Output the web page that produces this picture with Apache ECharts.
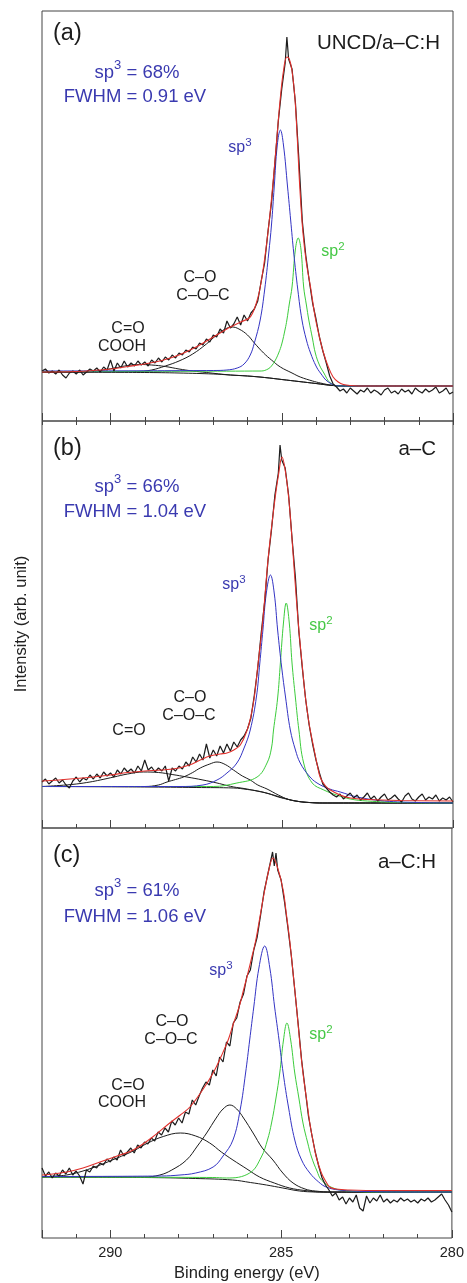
<!DOCTYPE html>
<html><head><meta charset="utf-8">
<script src="https://cdn.jsdelivr.net/npm/echarts/dist/echarts.min.js"></script>
<style>html,body{margin:0;padding:0;background:#fff}#c{width:467px;height:1283px}</style>
</head><body><div id="c"></div>
<script>
// ---------- DATA (binding energy eV, intensity arb. units) ----------
// Panel (a) UNCD/a-C:H
const baseA = [[292,49],[289,48.5],[288,48],[287,47],[286.5,46],[286,45],[285.5,43.5],[285,41.5],[284.5,39.5],[284,37.5],[283.5,35.5],[283,35],[280,35]];
const coohA = [[292,49],[290.5,49.5],[290.2,51],[289.8,53.5],[289.5,55.5],[289.15,56.5],[288.8,56],[288.4,54.5],[288,52],[287.6,50],[287.2,48.5],[286.5,46],[286,45],[285.5,43.5],[285,41.5],[284.5,39.5],[284,37.5],[283.5,35.5],[283,35],[280,35]];
const coA = [[292,49],[289.2,49.5],[288.8,51],[288.4,55],[288,60],[287.6,67],[287.2,77],[286.9,86],[286.65,92],[286.45,94],[286.25,92],[286,86],[285.8,78],[285.53,68],[285.3,61],[285.04,54],[284.7,48],[284.46,44],[284.1,40],[283.87,38],[283.5,35.5],[283.2,35],[280,35]];
const sp2A = [[292,49.5],[285.6,50],[285.4,52],[285.3,55],[285.2,60],[285.09,68],[285,77],[284.9,92],[284.85,101],[284.78,117],[284.7,134],[284.6,172],[284.52,183],[284.44,172],[284.36,134],[284.28,116],[284.21,101],[284.1,82],[284.02,68],[283.9,56],[283.77,48],[283.58,38],[283.3,35],[280,35]];
const sp3A = [[292,50],[287,50.5],[286.6,51],[286.3,53],[286.1,57],[285.92,66],[285.8,78],[285.63,101],[285.5,131],[285.38,168],[285.3,196],[285.22,234],[285.13,276],[285.04,291],[284.95,276],[284.83,234],[284.74,201],[284.65,168],[284.53,131],[284.41,101],[284.28,81],[284.16,68],[284,55],[283.87,48],[283.64,39],[283.3,35],[280,35]];
const fitA = [[292,49],[291,49.5],[290.5,50.5],[290,52],[289.5,54.5],[289,57],[288.5,60.5],[288,66],[287.5,74],[287,84],[286.7,90],[286.5,94],[286.2,99],[285.95,103],[285.85,108],[285.75,117],[285.65,130],[285.55,150],[285.45,175],[285.35,205],[285.25,240],[285.15,280],[285.05,320],[284.95,350],[284.85,364],[284.78,362],[284.7,350],[284.62,325],[284.55,285],[284.47,232],[284.38,188],[284.28,158],[284.16,134],[284.02,103],[283.9,84],[283.78,68],[283.65,55],[283.5,44],[283.35,39],[283.2,36.5],[283,35.5],[282.5,35],[280,35]];
const dataA = [[292.0,50],[291.9,52],[291.8,48],[291.7,50],[291.6,47],[291.5,51],[291.4,46],[291.3,43],[291.2,48],[291.1,50],[291.0,47],[290.9,51],[290.8,46],[290.7,49],[290.6,52],[290.5,50],[290.4,53],[290.3,49],[290.2,54],[290.1,51],[290.0,61],[289.9,50],[289.8,58],[289.7,53],[289.6,60],[289.5,54],[289.4,58],[289.3,55],[289.2,60],[289.1,56],[289.0,59],[288.9,55],[288.8,61],[288.7,58],[288.6,63],[288.5,59],[288.4,64],[288.3,61],[288.2,66],[288.1,63],[288.0,68],[287.9,66],[287.8,71],[287.7,69],[287.6,74],[287.5,72],[287.4,78],[287.3,76],[287.2,82],[287.1,79],[287.0,86],[286.9,84],[286.8,92],[286.7,88],[286.6,100],[286.5,93],[286.4,97],[286.3,104],[286.2,96],[286.1,106],[286.0,100],[285.9,108],[285.8,112],[285.7,120],[285.6,140],[285.5,158],[285.4,190],[285.3,218],[285.2,258],[285.1,300],[285.0,332],[284.9,358],[284.85,384],[284.8,362],[284.7,352],[284.6,318],[284.5,262],[284.4,200],[284.3,166],[284.2,141],[284.1,118],[284.0,102],[283.9,84],[283.8,70],[283.7,58],[283.6,45],[283.5,37],[283.4,34],[283.3,30],[283.2,32],[283.1,28],[283.0,33],[282.9,30],[282.8,27],[282.7,31],[282.6,29],[282.5,33],[282.4,28],[282.3,31],[282.2,29],[282.1,26],[282.0,31],[281.9,33],[281.8,28],[281.7,30],[281.6,27],[281.5,32],[281.4,29],[281.3,31],[281.2,27],[281.1,33],[281.0,30],[280.9,28],[280.8,32],[280.7,29],[280.6,31],[280.5,34],[280.4,28],[280.3,30],[280.2,33],[280.1,27],[280.0,29]];

// Panel (b) a-C
const baseB = [[292,41.5],[289,41],[287.5,40.5],[286.4,40],[286,38.5],[285.7,37],[285.4,34.5],[285.1,31],[284.8,28.5],[284.5,26.5],[284.2,25.5],[283.8,25],[280,25]];
const coohB = [[292,41.5],[291.5,42.5],[291,44],[290.6,46],[290.3,48],[289.9,51],[289.5,54],[289.04,56],[288.6,55.5],[288.2,53.5],[287.77,51],[287.3,48],[286.89,45],[286.6,42.5],[286.4,41],[286.1,39.5],[285.8,37.5],[285.4,34.5],[285,30.5],[284.6,27],[284.2,25.5],[283.8,25],[280,25]];
const coB = [[292,41.5],[289,41.5],[288.6,43],[288.35,46],[288.1,48.5],[287.87,51],[287.6,55.5],[287.38,60],[287.1,64],[286.89,66],[286.65,63.5],[286.41,58],[286.15,52],[285.92,48],[285.7,43],[285.43,39],[285.1,33],[284.8,28.5],[284.5,26.5],[284.2,25.5],[283.8,25],[280,25]];
const sp3B = [[292,41.5],[288,41.5],[287.3,43],[286.89,48],[286.6,55],[286.31,65],[286.1,80],[285.92,98],[285.74,131],[285.64,165],[285.55,198],[285.45,235],[285.33,253],[285.22,235],[285.12,198],[285,160],[284.89,131],[284.75,98],[284.6,78],[284.46,65],[284.2,52],[283.97,45],[283.6,39],[283.29,36],[282.8,31],[282,27],[281,25.5],[280,25]];
const sp2B = [[292,41.5],[287,41.5],[286.31,45],[285.72,51],[285.43,65],[285.3,80],[285.24,98],[285.12,130],[285.04,165],[284.95,205],[284.87,225],[284.78,205],[284.7,165],[284.6,130],[284.5,98],[284.36,65],[284.11,45],[283.77,38],[283.4,33],[283,29],[282.5,27],[281.5,25.5],[280,25]];
const fitB = [[292,47],[291.5,48],[291,49.5],[290.5,51],[290,53],[289.5,55.5],[289,57],[288.5,58],[288,60],[287.7,63],[287.38,68],[287.1,72],[286.8,74],[286.6,75],[286.4,78],[286.21,83],[286.01,98],[285.9,112],[285.8,131],[285.7,162],[285.58,198],[285.5,228],[285.41,265],[285.3,300],[285.19,331],[285.1,352],[284.99,371],[284.9,358],[284.8,331],[284.72,298],[284.65,265],[284.58,232],[284.5,198],[284.4,162],[284.31,131],[284.2,104],[284.07,81],[283.97,64],[283.87,50],[283.72,42],[283.58,38],[283.3,33],[283,30],[282.5,28.5],[281.5,27.5],[280,27]];
const dataB = [[292.0,46],[291.9,49],[291.8,44],[291.7,47],[291.6,50],[291.5,45],[291.4,48],[291.3,43],[291.2,40],[291.1,47],[291.0,51],[290.9,46],[290.8,50],[290.7,48],[290.6,53],[290.5,49],[290.4,54],[290.3,50],[290.2,56],[290.1,52],[290.0,55],[289.9,51],[289.8,58],[289.7,54],[289.6,60],[289.5,56],[289.4,59],[289.3,55],[289.2,62],[289.1,57],[289.0,68],[288.9,58],[288.8,61],[288.7,56],[288.6,60],[288.5,57],[288.4,62],[288.3,47],[288.2,60],[288.1,57],[288.0,62],[287.9,59],[287.8,66],[287.7,62],[287.6,71],[287.5,66],[287.4,74],[287.3,68],[287.2,84],[287.1,70],[287.0,78],[286.9,72],[286.8,82],[286.7,75],[286.6,84],[286.5,77],[286.4,86],[286.3,81],[286.2,88],[286.1,92],[286.0,99],[285.9,110],[285.8,133],[285.7,160],[285.6,195],[285.5,226],[285.4,268],[285.3,298],[285.2,333],[285.1,355],[285.05,383],[285.0,368],[284.9,360],[284.8,333],[284.7,290],[284.6,250],[284.5,196],[284.4,160],[284.3,128],[284.2,103],[284.1,84],[284.0,68],[283.9,55],[283.8,44],[283.7,40],[283.6,36],[283.5,33],[283.4,31],[283.3,34],[283.2,29],[283.1,32],[283.0,35],[282.9,30],[282.8,33],[282.7,28],[282.6,31],[282.5,35],[282.4,29],[282.3,32],[282.2,27],[282.1,31],[282.0,34],[281.9,28],[281.8,30],[281.7,33],[281.6,29],[281.5,26],[281.4,32],[281.3,35],[281.2,29],[281.1,27],[281.0,31],[280.9,34],[280.8,28],[280.7,31],[280.6,29],[280.5,33],[280.4,27],[280.3,30],[280.2,28],[280.1,31],[280.0,26]];

// Panel (c) a-C:H
const baseC = [[292,61],[289,60.5],[287.5,59.5],[286.42,58],[285.9,55.5],[285.43,53],[284.95,50],[284.46,47],[284,46],[283.5,45.8],[280,45.8]];
const coohC = [[292,61],[291.6,62],[291.28,63],[290.8,67],[290.3,73],[289.8,80],[289.33,87],[288.9,95],[288.45,101.5],[287.95,105],[287.5,102],[287.09,95],[286.75,86],[286.41,78],[286,69],[285.63,61],[285.2,55],[284.75,50],[284.3,47.5],[283.8,46],[280,46]];
const coC = [[292,61],[289,61],[288.55,63],[288.2,68],[287.77,78],[287.45,92],[287.18,105],[286.9,120],[286.7,129],[286.5,133],[286.3,129],[286.1,120],[285.82,105],[285.55,90],[285.24,78],[284.95,65],[284.65,55],[284.3,49],[284,47],[283.5,46],[280,46]];
const sp3C = [[292,61.5],[288.5,62],[287.96,63],[287.5,65],[286.99,71],[286.7,82],[286.41,98],[286.2,128],[286.04,165],[285.92,198],[285.8,231],[285.65,270],[285.48,292],[285.33,270],[285.19,231],[285.06,198],[284.94,165],[284.78,130],[284.6,98],[284.4,78],[284.16,65],[283.9,56],[283.68,51],[283.3,48],[282.5,46.5],[281,46],[280,46]];
const sp2C = [[292,61],[287,60.5],[286.6,60],[285.92,65],[285.58,81],[285.4,98],[285.28,115],[285.15,140],[285.04,165],[284.93,198],[284.83,215],[284.72,198],[284.6,165],[284.48,140],[284.36,115],[284.22,95],[284.11,81],[283.95,67],[283.82,58],[283.48,50],[283,47],[282,46],[280,46]];
const fitC = [[292,63],[291.8,63.5],[291.28,66],[290.8,70],[290.3,76],[289.8,82],[289.33,88],[288.8,100],[288.26,115],[287.95,123],[287.67,131],[287.3,148],[286.99,165],[286.75,182],[286.55,198],[286.4,214],[286.23,231],[286.1,248],[285.97,265],[285.85,282],[285.74,298],[285.6,325],[285.48,348],[285.36,368],[285.24,380],[285.1,370],[284.94,348],[284.85,325],[284.75,298],[284.65,265],[284.55,231],[284.46,198],[284.36,165],[284.26,140],[284.16,115],[284.06,96],[283.97,81],[283.82,65],[283.7,57],[283.58,51],[283.4,49],[283,48],[282,47.5],[280,47.5]];
const dataC = [[292.0,70],[291.9,62],[291.8,66],[291.7,60],[291.6,65],[291.5,62],[291.4,68],[291.3,64],[291.2,70],[291.1,63],[291.0,67],[290.9,62],[290.8,54],[290.7,68],[290.6,66],[290.5,72],[290.4,70],[290.3,75],[290.2,73],[290.1,79],[290.0,76],[289.9,81],[289.8,78],[289.7,88],[289.6,82],[289.5,86],[289.4,90],[289.3,85],[289.2,93],[289.1,90],[289.0,96],[288.9,94],[288.8,100],[288.7,97],[288.6,106],[288.5,103],[288.4,110],[288.3,106],[288.2,117],[288.1,113],[288.0,120],[287.9,115],[287.8,126],[287.7,124],[287.6,138],[287.5,133],[287.4,142],[287.3,150],[287.2,156],[287.1,153],[287.0,168],[286.9,162],[286.8,181],[286.7,176],[286.6,196],[286.5,192],[286.4,215],[286.3,220],[286.2,236],[286.1,244],[286.0,262],[285.9,268],[285.8,288],[285.7,301],[285.6,323],[285.5,346],[285.4,362],[285.3,378],[285.25,386],[285.2,372],[285.15,385],[285.1,368],[285.0,358],[284.9,336],[284.8,310],[284.7,282],[284.6,248],[284.5,214],[284.4,178],[284.3,150],[284.2,122],[284.1,103],[284.0,86],[283.9,72],[283.8,60],[283.7,53],[283.6,48],[283.5,42],[283.4,45],[283.3,38],[283.2,41],[283.1,34],[283.0,40],[282.9,36],[282.8,43],[282.7,30],[282.6,27],[282.5,42],[282.4,35],[282.3,40],[282.2,37],[282.1,43],[282.0,36],[281.9,39],[281.8,35],[281.7,38],[281.6,36],[281.5,40],[281.4,37],[281.3,39],[281.2,36],[281.1,38],[281.0,35],[280.9,39],[280.8,37],[280.7,40],[280.6,36],[280.5,38],[280.4,41],[280.3,44],[280.2,38],[280.1,33],[280.0,26]];

const energyTicks = [280, 285, 290];
const panelTags = ['(a)', '(b)', '(c)'];
const sampleNames = ['UNCD/a\u2013C:H', 'a\u2013C', 'a\u2013C:H'];
const sp3Fractions = ['68%', '66%', '61%'];
const fwhmValues = ['0.91 eV', '1.04 eV', '1.06 eV'];

// ---------- LAYOUT / STYLE ----------
const FONT = '"Liberation Sans", Arial, Helvetica, sans-serif';
const C_BLACK = '#1c1c1c', C_RED = '#e0302c', C_BLUE = '#3434c4', C_GREEN = '#3ccc3c';
const T_BLUE = '#3a3ab0', T_GREEN = '#46c846';
const FRAME = '#444';
const panels = [
  {top: 11, height: 410, ymax: 410, s: {base: baseA, cooh: coohA, co: coA, sp2: sp2A, sp3: sp3A, fit: fitA, data: dataA}},
  {top: 421, height: 407, ymax: 407, s: {base: baseB, cooh: coohB, co: coB, sp2: sp2B, sp3: sp3B, fit: fitB, data: dataB}},
  {top: 828, height: 410, ymax: 410, s: {base: baseC, cooh: coohC, co: coC, sp2: sp2C, sp3: sp3C, fit: fitC, data: dataC}}
];

function mkAxis(gi, pos, interval, len, labels) {
  return {
    gridIndex: gi, type: 'value', position: pos, min: 280, max: 292, inverse: true, interval: interval,
    axisLine: {show: false},
    axisTick: {show: true, inside: true, length: len, lineStyle: {color: FRAME, width: 1}},
    axisLabel: {show: labels, showMinLabel: true, showMaxLabel: true, margin: 7,
      formatter: v => (energyTicks.indexOf(v) >= 0 ? String(v) : ''),
      fontFamily: FONT, fontSize: 14.5, color: '#222'},
    splitLine: {show: false},
    name: labels ? 'Binding energy (eV)' : '', nameLocation: 'middle', nameGap: 27,
    nameTextStyle: {fontFamily: FONT, fontSize: 16.5, color: '#222'}
  };
}

const grid = [], xAxis = [], yAxis = [], series = [];
panels.forEach((p, i) => {
  grid.push({left: 42, width: 411, top: p.top, height: p.height, show: true, borderColor: FRAME, borderWidth: 1});
  yAxis.push({gridIndex: i, type: 'value', min: 0, max: p.ymax, show: false});
  const xi = xAxis.length;
  xAxis.push(mkAxis(i, 'bottom', 1, 4, false));
  xAxis.push(mkAxis(i, 'bottom', 5, 8, i === 2));
  if (i === 1) xAxis.push(mkAxis(i, 'top', 1, 4, false));
  const mk = (d, color, smooth, z, w) => ({type: 'line', data: d, xAxisIndex: xi, yAxisIndex: i,
    showSymbol: false, symbol: 'none', smooth: smooth, silent: true, z: z,
    lineStyle: {color: color, width: w}});
  series.push(mk(p.s.base, C_BLACK, 0.4, 2, 1));
  series.push(mk(p.s.cooh, C_BLACK, 0.4, 2, 1));
  series.push(mk(p.s.co, C_BLACK, 0.4, 2, 1));
  series.push(mk(p.s.sp2, C_GREEN, 0.4, 3, 1));
  series.push(mk(p.s.sp3, C_BLUE, 0.4, 3, 1));
  series.push(mk(p.s.data, C_BLACK, false, 4, 1.2));
  series.push(mk(p.s.fit, C_RED, 0.4, 5, 1.1));
});

function txt(x, y, text, size, color, align, extra) {
  return Object.assign({type: 'text', x: x, y: y, silent: true, z: 100,
    style: {text: text, fontFamily: FONT, fontSize: size, fill: color,
      align: align, verticalAlign: 'middle', textAlign: align, textVerticalAlign: 'middle'}}, extra || {});
}
function supTxt(x, y, base, sup, rest, size, supSize, lh, color) {
  return {type: 'text', x: x, y: y, silent: true, z: 100,
    style: {text: '{a|' + base + '}{b|' + sup + '}{a|' + rest + '}',
      align: 'center', verticalAlign: 'middle', textAlign: 'center', textVerticalAlign: 'middle',
      rich: {a: {fontFamily: FONT, fontSize: size, fill: color, lineHeight: lh},
             b: {fontFamily: FONT, fontSize: supSize, fill: color, lineHeight: supSize, verticalAlign: 'top'}}}};
}

const labelPos = [
  {tag: [53, 34], name: [440, 43], l1: [137, 73], l2: [135, 97], sp3: [240, 148], sp2: [333, 252],
   co: [[200, 278], [203, 296]], cooh: [[128, 329], [122, 347]]},
  {tag: [53, 449], name: [436, 449], l1: [137, 487], l2: [135, 512], sp3: [234, 585], sp2: [321, 626],
   co: [[190, 698], [189, 716]], cooh: [[129, 731]]},
  {tag: [53, 856], name: [436, 862], l1: [137, 891], l2: [135, 917], sp3: [221, 971], sp2: [321, 1035],
   co: [[172, 1022], [171, 1040]], cooh: [[128, 1086], [122, 1103]]}
];
const coohTexts = [['C=O', 'COOH'], ['C=O'], ['C=O', 'COOH']];
const coTexts = ['C\u2013O', 'C\u2013O\u2013C'];

const graphic = [];
labelPos.forEach((L, i) => {
  graphic.push(txt(L.tag[0], L.tag[1], panelTags[i], 23.5, C_BLACK, 'left'));
  graphic.push(txt(L.name[0], L.name[1], sampleNames[i], 20.5, C_BLACK, 'right'));
  graphic.push(supTxt(L.l1[0], L.l1[1], 'sp', '3', ' = ' + sp3Fractions[i], 18.5, 13, 28, T_BLUE));
  graphic.push(txt(L.l2[0], L.l2[1], 'FWHM = ' + fwhmValues[i], 18.5, T_BLUE, 'center'));
  graphic.push(supTxt(L.sp3[0], L.sp3[1], 'sp', '3', '', 16, 11.5, 22, T_BLUE));
  graphic.push(supTxt(L.sp2[0], L.sp2[1], 'sp', '2', '', 16, 11.5, 22, T_GREEN));
  L.co.forEach((p, k) => graphic.push(txt(p[0], p[1], coTexts[k], 16, C_BLACK, 'center')));
  L.cooh.forEach((p, k) => graphic.push(txt(p[0], p[1], coohTexts[i][k], 16, C_BLACK, 'center')));
});
graphic.push(txt(21, 624, 'Intensity (arb. unit)', 16.5, '#222', 'center', {rotation: Math.PI / 2}));

const chart = echarts.init(document.getElementById('c'), null, {renderer: 'canvas'});
chart.setOption({animation: false, backgroundColor: '#fff', grid, xAxis, yAxis, series, graphic});
</script></body></html>
